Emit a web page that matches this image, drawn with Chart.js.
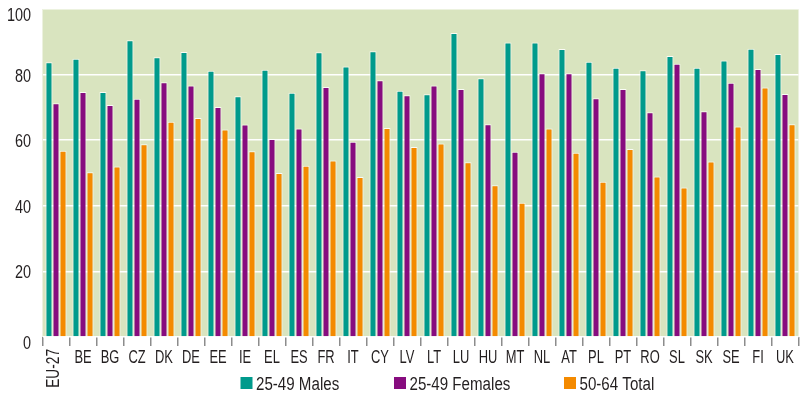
<!DOCTYPE html>
<html>
<head>
<meta charset="utf-8">
<script src="https://cdn.jsdelivr.net/npm/chart.js@4"></script>
<style>
  html, body { margin: 0; padding: 0; background: #ffffff; }
</style>
</head>
<body>
<canvas id="employmentChart" width="800" height="394"></canvas>
<script>
// Countries along the x axis
var countries = ['EU-27', 'BE', 'BG', 'CZ', 'DK', 'DE', 'EE', 'IE', 'EL', 'ES', 'FR', 'IT', 'CY', 'LV',
                 'LT', 'LU', 'HU', 'MT', 'NL', 'AT', 'PL', 'PT', 'RO', 'SL', 'SK', 'SE', 'FI', 'UK'];

// Series values
var males2549 = [83.8, 84.8, 74.7, 90.5, 85.3, 86.9, 81.2, 73.4, 81.5, 74.5, 86.8, 82.5, 87.1, 75.1,
                 74.0, 92.7, 78.9, 89.8, 89.8, 87.8, 83.9, 82.1, 81.3, 85.7, 82.1, 84.3, 87.9, 86.3];
var females2549 = [71.3, 74.7, 70.7, 72.6, 77.7, 76.7, 70.1, 64.8, 60.4, 63.6, 76.2, 59.5, 78.3, 73.7,
                   76.7, 75.6, 64.9, 56.5, 80.4, 80.4, 72.8, 75.6, 68.5, 83.3, 68.8, 77.5, 81.7, 74.1];
var total5064 = [56.8, 50.2, 52.0, 58.8, 65.6, 66.8, 63.3, 56.6, 50.0, 52.2, 53.8, 48.8, 63.7, 57.9,
                 59.0, 53.3, 46.3, 40.9, 63.6, 56.2, 47.3, 57.3, 48.9, 45.6, 53.5, 64.2, 76.1, 64.9];

var seriesNames = ['25-49 Males', '25-49 Females', '50-64 Total'];
var yTicks = [0, 20, 40, 60, 80, 100];

var colors = ['#009a8c', '#870c7f', '#f48a00'];
var fontFamily = "'Liberation Sans', Arial, sans-serif";
var textColor = '#231f20';

// draws text squeezed horizontally (the original uses a condensed face)
function narrowText(c, text, x, y, squeeze, align) {
    c.save();
    c.translate(x, y);
    c.scale(squeeze, 1);
    c.textAlign = align;
    c.fillText(text, 0, 0);
    c.restore();
}

// light green plot background
var plotBackground = {
    id: 'plotBackground',
    beforeDraw: function(chart) {
        var a = chart.chartArea;
        var c = chart.ctx;
        c.save();
        c.fillStyle = '#d9e4bf';
        c.fillRect(a.left, a.top, a.right - a.left, a.bottom - a.top);
        c.restore();
    }
};

// axis labels and legend
var chartText = {
    id: 'chartText',
    afterDraw: function(chart) {
        var xs = chart.scales.x;
        var ys = chart.scales.y;
        var c = chart.ctx;
        c.save();
        c.fillStyle = textColor;
        c.textBaseline = 'alphabetic';
        c.font = '19px ' + fontFamily;

        // y tick labels
        yTicks.forEach(function(v) {
            var y = ys.getPixelForValue(v);
            if (v === ys.min || v === ys.max) y += 5;
            narrowText(c, String(v), 31, y + 7, 0.76, 'right');
        });

        // country labels, EU-27 is written vertically
        countries.forEach(function(name, i) {
            var x = xs.getPixelForValue(i);
            if (name === 'EU-27') {
                c.save();
                c.translate(x + 3, 349);
                c.rotate(-Math.PI / 2);
                c.scale(0.72, 1);
                c.textAlign = 'right';
                c.fillText(name, 0, 0);
                c.restore();
            } else {
                narrowText(c, name, x, 363, 0.68, 'center');
            }
        });

        // legend
        var legendLeft = [240.5, 394, 564];
        c.font = '18px ' + fontFamily;
        chart.data.datasets.forEach(function(ds, i) {
            c.fillStyle = ds.backgroundColor;
            c.fillRect(legendLeft[i], 377, 12, 12);
            c.fillStyle = textColor;
            narrowText(c, ds.label, legendLeft[i] + 15.5, 389.5, 0.84, 'left');
        });
        c.restore();
    }
};

var ctx = document.getElementById('employmentChart').getContext('2d');
var employmentChart = new Chart(ctx, {
    type: 'bar',
    data: {
        labels: countries,
        datasets: [males2549, females2549, total5064].map(function(values, i) {
            return {
                label: seriesNames[i],
                data: values,
                backgroundColor: colors[i],
                borderColor: 'rgba(255,255,255,0.85)',
                borderWidth: 1,
                borderSkipped: 'bottom',
                barPercentage: 1,
                categoryPercentage: 0.78
            };
        })
    },
    options: {
        responsive: false,
        animation: false,
        layout: { padding: { top: 9, right: 1.5, left: 0, bottom: 0 } },
        plugins: {
            legend: { display: false },
            tooltip: { enabled: false }
        },
        scales: {
            x: {
                grid: {
                    offset: true,
                    drawOnChartArea: false,
                    drawTicks: true,
                    tickLength: 9,
                    color: '#8c8c8c',
                    lineWidth: 1.5
                },
                border: { display: false },
                ticks: { display: false },
                afterFit: function(scale) { scale.height = 57; }
            },
            y: {
                min: 0,
                max: 100,
                afterBuildTicks: function(scale) {
                    scale.ticks = yTicks.map(function(v) { return { value: v }; });
                },
                grid: { color: '#ffffff', lineWidth: 1.5, drawTicks: false },
                border: { display: false },
                ticks: { display: false },
                afterFit: function(scale) { scale.width = 42.5; }
            }
        }
    },
    plugins: [plotBackground, chartText]
});
</script>
</body>
</html>
